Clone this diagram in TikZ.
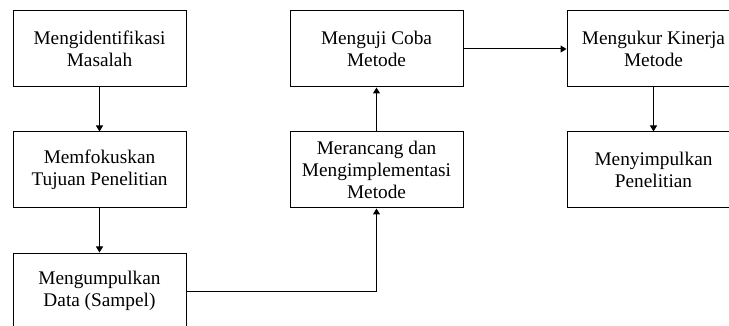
\documentclass[tikz,border=0pt]{standalone}
\usepackage{fontspec}
\setmainfont{Liberation Serif}
\usetikzlibrary{arrows.meta}
\begin{document}
\begin{tikzpicture}[x=1pt,y=-1pt,
  box/.style={draw,line width=1pt,minimum width=173pt,minimum height=76pt,inner sep=0pt,align=center,font=\fontsize{19.3}{22}\selectfont},
  conn/.style={line width=1pt,-{Triangle[length=6pt,width=7pt]}}]
\useasboundingbox (0,0) rectangle (729,326);
\clip (0,0) rectangle (729,326);
\fill[white] (0,0) rectangle (729,326);
\node[box] (b1) at (99.5,49) {Mengidentifikasi\\Masalah};
\node[box] (b2) at (99.5,170) {Memfokuskan\\Tujuan Penelitian};
\node[box] (b3) at (99.5,291) {Mengumpulkan\\Data (Sampel)};
\node[box] (b4) at (376.5,170) {Merancang dan\\Mengimplementasi\\Metode};
\node[box] (b5) at (376.5,49) {Menguji Coba\\Metode};
\node[box] (b6) at (653.5,49) {Mengukur Kinerja\\Metode};
\node[box] (b7) at (653.5,170) {Menyimpulkan\\Penelitian};
\draw[conn] (b1) -- (b2);
\draw[conn] (b2) -- (b3);
\draw[conn] (b3.east) -| (b4.south);
\draw[conn] (b4) -- (b5);
\draw[conn] (b5) -- (b6);
\draw[conn] (b6) -- (b7);
\end{tikzpicture}
\end{document}
